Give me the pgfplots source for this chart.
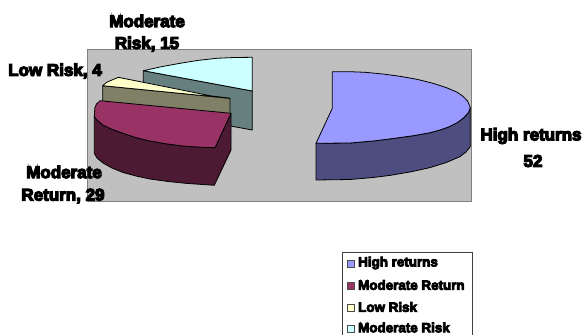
\documentclass[border=0pt]{standalone}
\usepackage{fontspec}
\setmainfont{Liberation Sans}
\newfontfamily\heavy[FakeBold=7]{Liberation Sans Bold}
\newfontfamily\legendheavy[FakeBold=6]{Liberation Sans Bold}
\usepackage{pgfplots}
\pgfplotsset{compat=1.18}
\definecolor{plotgray}{HTML}{C0C0C0}
\definecolor{framegray}{HTML}{808080}
\definecolor{highTop}{HTML}{9999FF}
\definecolor{highSide}{HTML}{4D4D80}
\definecolor{retTop}{HTML}{993366}
\definecolor{retSide}{HTML}{4D1A33}
\definecolor{lowTop}{HTML}{FFFFCC}
\definecolor{lowSide}{HTML}{808066}
\definecolor{riskTop}{HTML}{CCFFFF}
\definecolor{riskSide}{HTML}{668080}
\pgfplotsset{
  slice/.style={fill=#1, draw=black, line width=0.8pt, line join=round, no markers},
  swatch/.style={fill=#1, draw=black!70, line width=0.7pt, no markers},
}
\newcommand{\lab}[3]{\node[font=\heavy\fontsize{#3}{#3}\selectfont, inner sep=0pt, align=center] at (axis cs:#1) {#2};}
\begin{document}
\begin{tikzpicture}
\path[use as bounding box] (0,0) rectangle (584pt,335pt);
\begin{axis}[
  scale only axis, width=584pt, height=335pt,
  xmin=0, xmax=584, ymin=0, ymax=335, y dir=reverse,
  axis lines=none, clip=false,
]
% plot area
\addplot[fill=plotgray, draw=framegray, line width=1pt, no markers] coordinates {(87,49) (471,49) (471,201) (87,201)} --cycle;

% Moderate Risk slice
\addplot[slice=riskSide] coordinates {(143.3,70.7) (252.3,91) (252.3,130) (143.3,110)} --cycle;
\addplot[slice=riskTop] coordinates {(252.3,57.3) (234,57.5) (216.7,58.3) (198,60.4) (180,63.3) (161,66.8) (143.3,70.7) (252.3,91)} --cycle;

% Low Risk slice
\addplot[slice=lowSide] coordinates {(102.7,85.7) (230,98.3) (230,125) (102.7,112)} --cycle;
\addplot[slice=lowTop] coordinates {(118.3,77.3) (210,95.7) (230,98.3) (102.7,85.7) (106.7,82.3)} --cycle;

% Moderate Return slice
\addplot[slice=retSide] coordinates {(94.3,116.7) (94.3,153.3) (97,158) (103,163) (112,168) (123,172.5) (136,176) (150,179) (168,181.5) (186.7,183.4) (214.3,185.3) (231,150) (231,113.3) (215,147.7) (200,147.2) (183,146) (166,143.8) (150,141) (136,137.6) (123,133.3) (112,129.3) (103,125) (97,120)} --cycle;
\addplot[slice=retTop] coordinates {(100,100.7) (96.5,104) (94.8,108) (94.3,116.7) (97,120) (103,125) (112,129.3) (123,133.3) (136,137.6) (150,141) (166,143.8) (183,146) (200,147.2) (215,147.7) (231,113.3)} --cycle;

% High returns slice
\addplot[slice=highSide] coordinates {(316,143.3) (316,180) (350,179.5) (372,177.6) (390,175.4) (411,171.8) (430,167.6) (446,162.6) (460,156.6) (466,152) (470.3,146.7) (470.3,107.3) (468.5,112.5) (464,117.5) (457.5,122.5) (449,126.8) (440,130) (430,132.7) (414,135.6) (396.7,138) (375,140.8) (350,143)} --cycle;
\addplot[slice=highTop] coordinates {(332.3,71.7) (350,71.7) (365,72.3) (383,74) (400,76.3) (417,79.3) (433,83.3) (446,87.5) (456.7,92) (463,96.3) (467.5,101) (470.3,107.3) (468.5,112.5) (464,117.5) (457.5,122.5) (449,126.8) (440,130) (430,132.7) (414,135.6) (396.7,138) (375,140.8) (350,143) (316,143.3) (332.3,108.3)} --cycle;

% data labels
\lab{147,21}{Moderate}{17}
\lab{147,44}{Risk, 15}{17}
\lab{55,71}{Low Risk, 4}{17}
\lab{64,172}{Moderate}{17}
\lab{63,196}{Return, 29}{17}
\lab{531,136}{High returns}{17}
\lab{533,161}{52}{17}

% legend box runs off the lower edge
\addplot[fill=white, draw=black!75, line width=0.8pt, no markers] coordinates {(342,335) (342,252) (472,252) (472,335)};
\addplot[swatch=highTop] coordinates {(347,260) (354,260) (354,267) (347,267)} --cycle;
\addplot[swatch=retTop] coordinates {(347,282) (354,282) (354,289) (347,289)} --cycle;
\addplot[swatch=lowTop] coordinates {(347,304) (354,304) (354,311) (347,311)} --cycle;
\addplot[swatch=riskTop] coordinates {(347,325) (354,325) (354,332) (347,332)} --cycle;
\node[font=\legendheavy\fontsize{13.4}{13.4}\selectfont, anchor=west, inner sep=0pt] at (axis cs:358,263) {High returns};
\node[font=\legendheavy\fontsize{13.4}{13.4}\selectfont, anchor=west, inner sep=0pt] at (axis cs:358,285) {Moderate Return};
\node[font=\legendheavy\fontsize{13.4}{13.4}\selectfont, anchor=west, inner sep=0pt] at (axis cs:358,307) {Low Risk};
\node[font=\legendheavy\fontsize{13.4}{13.4}\selectfont, anchor=west, inner sep=0pt] at (axis cs:358,327.5) {Moderate Risk};
\end{axis}
\end{tikzpicture}
\end{document}
